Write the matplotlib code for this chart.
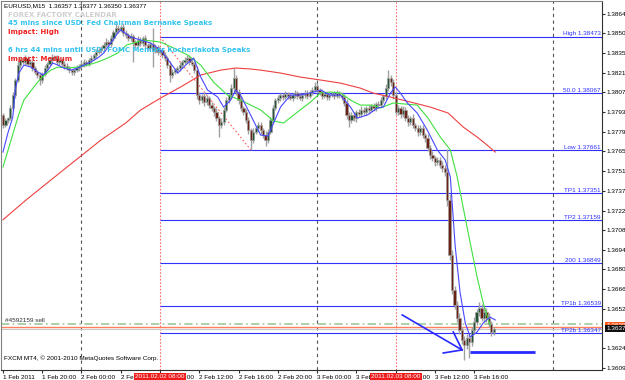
import numpy as np
import matplotlib.pyplot as plt

plt.rcParams['font.family'] = ['Liberation Sans', 'DejaVu Sans']

# EURUSD M15, 1 Feb 2011 16:00 .. 3 Feb 2011 18:00 (bar index = 15 min steps)
open0 = 1.37912
close = [
    1.37840, 1.37876, 1.37890, 1.37962, 1.38055, 1.38163, 1.38270, 1.38306, 1.38292, 1.38321,
    1.38278, 1.38292, 1.38249, 1.38220, 1.38199, 1.38163, 1.38206, 1.38249, 1.38278, 1.38306,
    1.38328, 1.38321, 1.38292, 1.38306, 1.38278, 1.38263, 1.38249, 1.38234, 1.38220, 1.38234,
    1.38249, 1.38263, 1.38278, 1.38292, 1.38278, 1.38306, 1.38321, 1.38342, 1.38364, 1.38378,
    1.38392, 1.38414, 1.38435, 1.38421, 1.38464, 1.38507, 1.38536, 1.38522, 1.38543, 1.38500,
    1.38486, 1.38464, 1.38478, 1.38435, 1.38414, 1.38450, 1.38428, 1.38464, 1.38414, 1.38392,
    1.38421, 1.38378, 1.38400, 1.38364, 1.38378, 1.38342, 1.38321, 1.38270, 1.38199, 1.38220,
    1.38234, 1.38249, 1.38270, 1.38292, 1.38306, 1.38321, 1.38292, 1.38278, 1.38234, 1.38055,
    1.38019, 1.38048, 1.38005, 1.38034, 1.37983, 1.37962, 1.37933, 1.37890, 1.37840, 1.37861,
    1.37948, 1.38019, 1.38055, 1.38105, 1.38177, 1.38077, 1.38019, 1.37962, 1.37933, 1.37876,
    1.37804, 1.37732, 1.37790, 1.37818, 1.37840, 1.37804, 1.37768, 1.37732, 1.37790, 1.37876,
    1.37962, 1.38019, 1.38034, 1.38055, 1.38041, 1.38062, 1.38048, 1.38034, 1.38055, 1.38070,
    1.38048, 1.38034, 1.38055, 1.38070, 1.38048, 1.38077, 1.38091, 1.38120, 1.38091, 1.38077,
    1.38048, 1.38062, 1.38041, 1.38055, 1.38062, 1.38048, 1.38070, 1.38055, 1.38041, 1.37998,
    1.37912, 1.37876, 1.37912, 1.37890, 1.37933, 1.37919, 1.37948, 1.37933, 1.37962, 1.37948,
    1.37976, 1.37962, 1.37991, 1.37983, 1.38019, 1.38048, 1.38105, 1.38177, 1.38149, 1.38055,
    1.37933, 1.37962, 1.37919, 1.37948, 1.37890, 1.37861, 1.37890, 1.37840, 1.37818, 1.37790,
    1.37818, 1.37768, 1.37747, 1.37675, 1.37625, 1.37603, 1.37574, 1.37589, 1.37553, 1.37531,
    1.37503, 1.37302, 1.36907, 1.36656, 1.36548, 1.36455, 1.36368, 1.36297, 1.36261, 1.36312,
    1.36283, 1.36368, 1.36426, 1.36498, 1.36527, 1.36455, 1.36498, 1.36455, 1.36412, 1.36354,
    1.36377,
]
# wick lengths in points (1e-5) above / below the body
wick_hi = [
    12, 16, 10, 20, 24, 18, 28, 14, 20, 24, 16, 22, 12, 18, 14, 20, 16, 24, 12, 18,
    22, 14, 20, 16, 12, 18, 24, 14, 10, 16, 20, 12, 18, 22, 14, 16, 20, 12, 24, 18,
    14, 20, 28, 16, 22, 18, 36, 24, 16, 30, 20, 14, 24, 18, 16, 28, 20, 14, 22, 18,
    16, 115, 20, 14, 24, 18, 22, 16, 28, 20, 14, 18, 24, 16, 20, 21, 18, 22, 16, 28,
    24, 18, 30, 20, 16, 22, 14, 26, 18, 32, 20, 24, 16, 28, 72, 22, 18, 26, 16, 20,
    24, 18, 28, 16, 22, 20, 14, 26, 18, 24, 20, 16, 24, 18, 14, 22, 16, 20, 18, 24,
    16, 20, 14, 22, 18, 16, 24, 29, 20, 16, 22, 18, 14, 20, 16, 24, 18, 14, 22, 20,
    28, 24, 18, 22, 16, 20, 26, 18, 14, 22, 18, 24, 16, 20, 22, 18, 28, 57, 24, 20,
    30, 22, 18, 26, 20, 24, 16, 28, 18, 22, 24, 20, 18, 26, 22, 30, 18, 24, 20, 28,
    24, 165, 40, 35, 30, 28, 36, 24, 30, 26, 30, 22, 34, 25, 40, 30, 44, 26, 34, 24,
    12,
]
wick_lo = [
    20, 16, 24, 14, 18, 22, 12, 20, 16, 24, 18, 14, 22, 16, 20, 36, 18, 14, 24, 16,
    20, 16, 22, 18, 14, 24, 16, 20, 18, 22, 14, 20, 16, 24, 18, 12, 22, 16, 20, 14,
    18, 22, 16, 20, 24, 18, 14, 22, 16, 20, 24, 18, 22, 143, 20, 16, 24, 18, 22, 16,
    20, 122, 18, 24, 16, 22, 20, 18, 50, 24, 16, 20, 22, 18, 14, 20, 24, 16, 22, 28,
    30, 20, 26, 18, 24, 20, 28, 22, 86, 24, 20, 16, 24, 18, 22, 20, 26, 18, 24, 20,
    28, 71, 24, 18, 22, 26, 20, 42, 24, 18, 22, 16, 20, 24, 18, 14, 22, 16, 20, 18,
    24, 16, 20, 18, 22, 14, 20, 16, 24, 18, 20, 16, 22, 18, 14, 24, 16, 20, 18, 22,
    30, 50, 24, 20, 28, 18, 22, 24, 20, 26, 18, 22, 20, 24, 16, 20, 18, 22, 26, 30,
    24, 20, 28, 22, 18, 26, 20, 24, 22, 28, 20, 24, 28, 22, 26, 20, 30, 24, 22, 26,
    30, 40, 36, 30, 28, 30, 26, 32, 107, 28, 115, 26, 30, 24, 28, 22, 26, 30, 22, 28,
    18,
]

# moving averages (bar index, price)
blue_bar = [0, 2, 4, 5, 6.5, 8.5, 11.4, 14.2, 16.3, 18.3, 20.3, 22.4, 24.8, 27.7, 30.5, 33,
            35.8, 38.6, 41.1, 43.9, 46.8, 48, 52.1, 56.1, 60.2, 64.3, 68.3, 71.2, 75.3, 77.7,
            80.6, 83.4, 87.5, 89.9, 92.8, 94.8, 96.8, 100.9, 105, 108, 113.1, 117.2, 121,
            125.3, 129.4, 133.4, 137.5, 141.6, 144.4, 148.5, 152.6, 155, 157.9, 159.9, 161.9,
            164.8, 168.8, 172.9, 177, 180.2, 182.3, 184.3, 186.3, 188.4, 190.4, 193.2, 195.7,
            198.5, 200.6]
blue_ma = [1.37646, 1.37782, 1.37897, 1.38091, 1.38213, 1.38270, 1.38256, 1.38220, 1.38199,
           1.38234, 1.38285, 1.38270, 1.38249, 1.38234, 1.38249, 1.38270, 1.38292, 1.38321,
           1.38357, 1.38428, 1.38500, 1.38522, 1.38471, 1.38450, 1.38428, 1.38378, 1.38285,
           1.38213, 1.38285, 1.38321, 1.38184, 1.38091, 1.38041, 1.37969, 1.38019, 1.38091,
           1.38055, 1.37912, 1.37768, 1.37761, 1.37969, 1.38055, 1.38055, 1.38070, 1.38091,
           1.38055, 1.38055, 1.37969, 1.37890, 1.37912, 1.37962, 1.37969, 1.38070, 1.38113,
           1.38070, 1.37998, 1.37926, 1.37804, 1.37661, 1.37589, 1.37467, 1.36965, 1.36634,
           1.36419, 1.36319, 1.36355, 1.36419, 1.36462, 1.36441]
green_bar = [0, 3.3, 6.1, 8.5, 12.6, 15.5, 19.5, 22.4, 26.4, 30.5, 34.6, 38.6, 42.7, 46.8,
             50.4, 57.4, 64.3, 69.6, 75.3, 80.6, 85.8, 91.5, 96.8, 105, 110.3, 114.3, 120,
             125.3, 129.4, 133.4, 137.5, 141.6, 145.6, 150.5, 153.8, 159, 168.8, 172.9, 178.2,
             182.3, 185.1, 189.1, 193.2, 195.7, 198.5]
green_ma = [1.37539, 1.37732, 1.37897, 1.38019, 1.38113, 1.38177, 1.38234, 1.38256, 1.38249,
            1.38256, 1.38270, 1.38292, 1.38321, 1.38357, 1.38414, 1.38450, 1.38435, 1.38392,
            1.38342, 1.38270, 1.38148, 1.38055, 1.38019, 1.37948, 1.37869, 1.37854, 1.37933,
            1.38005, 1.38070, 1.38077, 1.38070, 1.38019, 1.37983, 1.37983, 1.37962, 1.37998,
            1.37983, 1.37897, 1.37754, 1.37661, 1.37467, 1.37108, 1.36749, 1.36563, 1.36405]
red_bar = [0, 9.4, 23.6, 39.9, 50, 56.1, 64.3, 72.4, 80.6, 88.7, 94.8, 100.9, 105, 113.1,
           121.2, 129.4, 137.5, 145.6, 150.9, 157.9, 166, 174.1, 181.4, 187.5, 193.2, 197.3,
           200.6]
red_ma = [1.37160, 1.37302, 1.37503, 1.37732, 1.37854, 1.37948, 1.38034, 1.38113, 1.38199,
          1.38234, 1.38249, 1.38242, 1.38234, 1.38213, 1.38184, 1.38163, 1.38141, 1.38105,
          1.38069, 1.38041, 1.38005, 1.37969, 1.37926, 1.37826, 1.37754, 1.37696, 1.37646]

# fibo levels drawn from 2 Feb 08:00 (bar 64)
level_names = ["High", "50.0", "Low", "TP1", "TP2", "200", "TP1b", "TP2b"]
level_prices = [1.38473, 1.38067, 1.37661, 1.37351, 1.37159, 1.36849, 1.36539, 1.36347]
fibo_start = 64
fibo_low_bar = 101

price_ticks = [1.38640, 1.38500, 1.38355, 1.38215, 1.38075, 1.37935, 1.37790, 1.37650,
               1.37510, 1.37370, 1.37225, 1.37085, 1.36945, 1.36805, 1.36660, 1.36520,
               1.36240, 1.36095]
time_bars = [0, 16, 32, 48, 64, 80, 96, 112, 128, 144, 160, 176, 192]
time_labels = ["1 Feb 2011", "1 Feb 20:00", "2 Feb 00:00", "2 Feb 04:00", "2 Feb 08:00",
               "2 Feb 12:00", "2 Feb 16:00", "2 Feb 20:00", "3 Feb 00:00", "3 Feb 04:00",
               "3 Feb 08:00", "3 Feb 12:00", "3 Feb 16:00"]
day_separators = [32, 128, 224]
vlines_bars = [64, 160]
vlines_labels = ["2011.02.02 08:00", "2011.02.03 08:00"]

bid = 1.36377
ask = 1.36394
order_price = 1.36412
# arrow + horizontal line objects (bar, price)
arrow_tail = (162.7, 1.36477)
arrow_tip = (187.1, 1.36226)
arrow_head1 = (179.4, 1.36204)
arrow_head2 = (183.5, 1.36355)
hline_bars = (190.4, 216.8)
hline_price = 1.36208

fig = plt.figure(figsize=(6.25, 3.8), dpi=100)
ax = fig.add_axes([1 / 625, 10 / 380, 601 / 625, 369 / 380])
ax.set_xlim(-0.8, 244.1)
ax.set_ylim(1.36082, 1.38730)

# candles
c = np.array(close)
o = np.array([open0] + close[:-1])
hi = np.maximum(o, c) + np.array(wick_hi) / 1e5
lo = np.minimum(o, c) - np.array(wick_lo) / 1e5
bars = np.arange(len(c))
up = c >= o
body = np.maximum(np.abs(c - o), 2e-5)
ax.vlines(bars, lo, hi, color="#a0a0a0", lw=1.0, zorder=3)
ax.bar(bars[up], body[up], bottom=o[up], width=0.9, color="#245436",
       edgecolor="#a0a0a0", linewidth=0.5, zorder=4)
ax.bar(bars[~up], body[~up], bottom=c[~up], width=0.9, color="#6a2214",
       edgecolor="#a0a0a0", linewidth=0.5, zorder=4)

# separators / vertical lines
for b in day_separators:
    ax.axvline(b, color="#555555", lw=0.8, ls=(0, (3, 3)), zorder=1)
for b in vlines_bars:
    ax.axvline(b, color="#ff7070", lw=0.8, ls=(0, (1.5, 1.5)), zorder=1)

# fibo levels
xr = ax.get_xlim()[1]
for name, p in zip(level_names, level_prices):
    ax.hlines(p, fibo_start, xr, color="#3030ff", lw=0.8, zorder=2)
    ax.text(xr - 0.5, p + 0.00003, f"{name} {p:.5f}", color="#3030ff",
            fontsize=4.6, ha="right", va="bottom", zorder=6)
ax.plot([fibo_start, fibo_low_bar], [level_prices[0], level_prices[2]],
        color="#ff6060", lw=0.8, ls=(0, (1.5, 2)), zorder=2)

# moving averages
ax.plot(red_bar, red_ma, color="#ee4040", lw=0.8, zorder=5)
ax.plot(green_bar, green_ma, color="#40e040", lw=0.8, zorder=5)
ax.plot(blue_bar, blue_ma, color="#4848ff", lw=0.8, zorder=5)

# order / bid / ask lines
ax.axhline(order_price, color="#9cc89c", lw=1.2, ls=(0, (5, 2, 1, 2)), zorder=2)
ax.axhline(ask, color="#ff8060", lw=1.0, zorder=2)
ax.axhline(bid, color="#c8c8c8", lw=0.8, zorder=2)
ax.text(1, order_price + 0.00004, "#4592159 sell", fontsize=4.6, color="#303030",
        ha="left", va="bottom")

# arrow & horizontal line drawn on the chart
ax.plot([arrow_tail[0], arrow_tip[0]], [arrow_tail[1], arrow_tip[1]], color="#2828ff", lw=1.2, zorder=7)
ax.plot([arrow_head1[0], arrow_tip[0], arrow_head2[0]],
        [arrow_head1[1], arrow_tip[1], arrow_head2[1]], color="#2828ff", lw=1.2, zorder=7)
ax.hlines(hline_price, hline_bars[0], hline_bars[1], color="#2828ff", lw=2, zorder=7)

# axes styling
for s in ["top", "left"]:
    ax.spines[s].set_color("#808080")
ax.spines["right"].set_color("#303030")
ax.spines["bottom"].set_color("#303030")
for s in ax.spines.values():
    s.set_linewidth(0.8)
ax.yaxis.tick_right()
ax.set_yticks(price_ticks)
ax.set_yticklabels([f"{p:.5f}" for p in price_ticks])
ax.tick_params(axis="y", labelsize=4.6, length=2.5, pad=1, color="#303030")
ax.set_xticks(time_bars)
ax.set_xticklabels(time_labels)
for lbl in ax.get_xticklabels():
    lbl.set_horizontalalignment("left")
ax.tick_params(axis="x", labelsize=4.6, length=2.5, pad=1, color="#303030")

# current price boxes on the price axis
ax.annotate(f"{ask:.5f}", xy=(1.0, ask + 0.0001), xycoords=("axes fraction", "data"),
            xytext=(3, 0), textcoords="offset points", fontsize=4.6, color="white",
            va="center", ha="left", annotation_clip=False,
            bbox=dict(boxstyle="square,pad=0.15", fc="#ff5a1e", ec="none"))
ax.annotate(f"{bid:.5f}", xy=(1.0, bid), xycoords=("axes fraction", "data"),
            xytext=(3, 0), textcoords="offset points", fontsize=4.6, color="white",
            va="center", ha="left", annotation_clip=False,
            bbox=dict(boxstyle="square,pad=0.15", fc="#101010", ec="none"))

# red time labels for the vertical lines
for b, t in zip(vlines_bars, vlines_labels):
    ax.annotate(t, xy=(b, 0), xycoords=("data", "axes fraction"), xytext=(0, -3),
                textcoords="offset points", fontsize=4.6, color="white", ha="center",
                va="top", annotation_clip=False, zorder=10,
                bbox=dict(boxstyle="square,pad=0.2", fc="#ee1c1c", ec="none"))

# header texts
hdr = ['DejaVu Sans']
fig.text(4 / 625, 1 - 6 / 380, "EURUSD,M15  1.36357 1.36377 1.36350 1.36377",
         fontsize=4.6, color="black", va="center")
fig.text(8 / 625, 1 - 15 / 380, "FOREX FACTORY CALENDAR", fontsize=5.0, family=hdr,
         color="#cfcfcf", weight="bold", va="center")
fig.text(8 / 625, 1 - 23.5 / 380, "45 mins since USD: Fed Chairman Bernanke Speaks",
         fontsize=5.0, family=hdr, color="#33c3f0", weight="bold", va="center")
fig.text(8 / 625, 1 - 32 / 380, "Impact: High", fontsize=5.0, family=hdr, color="#ee2020",
         weight="bold", va="center")
fig.text(8 / 625, 1 - 50 / 380, "6 hrs 44 mins until USD: FOMC Member Kocherlakota Speaks",
         fontsize=5.0, family=hdr, color="#33c3f0", weight="bold", va="center")
fig.text(8 / 625, 1 - 58.5 / 380, "Impact: Medium", fontsize=5.0, family=hdr, color="#ee2020",
         weight="bold", va="center")
fig.text(4 / 625, 1 - 358 / 380, "FXCM MT4, \u00a9 2001-2010 MetaQuotes Software Corp.",
         fontsize=4.6, color="black", va="center")

fig.savefig("out.png", dpi=100)
